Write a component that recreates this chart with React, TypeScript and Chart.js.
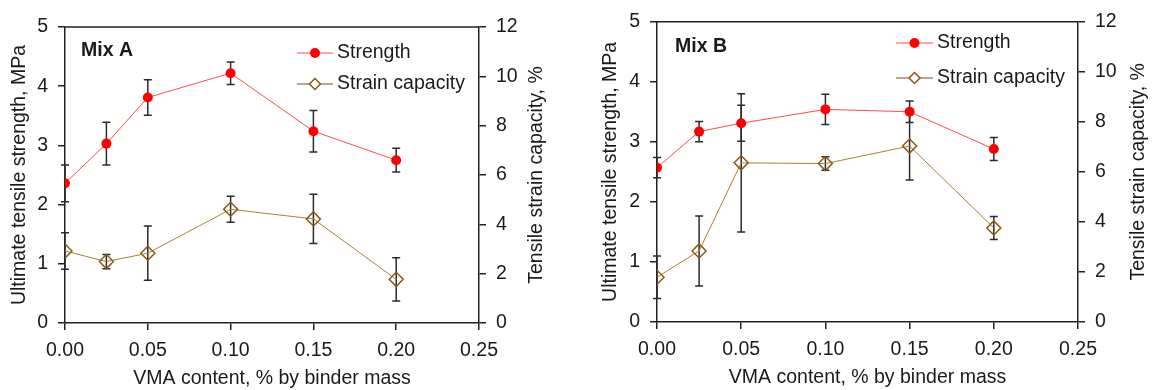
import React, { useEffect, useRef } from 'react';
import { Chart, registerables } from 'chart.js';

Chart.register(...registerables);

const FONT = '"Liberation Sans", Arial, sans-serif';

// VMA content, % by binder mass
const vmaContent = [0, 0.025, 0.05, 0.1, 0.15, 0.2];
const xTicks = [0, 0.05, 0.1, 0.15, 0.2, 0.25];

// Mix A
const mixAStrength = [2.36, 3.03, 3.81, 4.22, 3.24, 2.75];
const mixAStrengthErr = [0.31, 0.36, 0.3, 0.19, 0.35, 0.2];
const mixAStrain = [2.92, 2.49, 2.83, 4.61, 4.22, 1.77];
const mixAStrainErr = [0.74, 0.29, 1.1, 0.53, 1.0, 0.88];

// Mix B
const mixBStrength = [2.57, 3.17, 3.31, 3.54, 3.5, 2.88];
const mixBStrengthErr = [0.17, 0.17, 0.3, 0.25, 0.18, 0.19];
const mixBStrain = [1.79, 2.84, 6.36, 6.33, 7.03, 3.76];
const mixBStrainErr = [0.85, 1.4, 2.76, 0.27, 1.36, 0.46];

const leftAxisTitle = 'Ultimate tensile strength, MPa';
const rightAxisTitle = 'Tensile strain capacity, %';
const xAxisTitle = 'VMA content, % by binder mass';
const legendLabels = ['Strength', 'Strain capacity'];

const TEXT = '#1a1a1a';
const AXIS = '#222222';
const RED_LINE = '#ff4a4a';
const RED = '#ff0000';
const BROWN_LINE = '#a8812f';
const BROWN_MARK = '#8a5a12';
const ERR = '#2b2b2b';

type Geo = {
  width: number;
  L: number; R: number; T: number; B: number;
  leftTitleX: number; rightTitleX: number; xTitleY: number;
  mixX: number; mixY: number;
  legLine0: number; legLine1: number; legText: number; legRows: number[];
};

function Panel(props: {
  label: string; left: number; geo: Geo;
  strength: number[]; strengthErr: number[]; strain: number[]; strainErr: number[];
}) {
  const ref = useRef<HTMLCanvasElement>(null);
  const { geo } = props;
  useEffect(() => {
    const canvas = ref.current!;
    const errs = [props.strengthErr, props.strainErr];

    const errorBars = {
      id: 'errorBars',
      beforeDatasetsDraw(chart: any) {
        const ctx = chart.ctx;
        ctx.save();
        ctx.strokeStyle = ERR;
        ctx.lineWidth = 1.5;
        chart.data.datasets.forEach((ds: any, di: number) => {
          const ys = chart.scales[ds.yAxisID];
          const xs = chart.scales.x;
          ds.data.forEach((p: any, i: number) => {
            const e = errs[di][i];
            const px = xs.getPixelForValue(p.x);
            const y0 = ys.getPixelForValue(p.y - e);
            const y1 = ys.getPixelForValue(p.y + e);
            ctx.beginPath();
            ctx.moveTo(px, y0); ctx.lineTo(px, y1);
            ctx.moveTo(px - 4, y0); ctx.lineTo(px + 4, y0);
            ctx.moveTo(px - 4, y1); ctx.lineTo(px + 4, y1);
            ctx.stroke();
          });
        });
        ctx.restore();
      },
    };

    const overlay = {
      id: 'overlay',
      afterDraw(chart: any) {
        const ctx = chart.ctx;
        const a = chart.chartArea;
        ctx.save();
        // top frame line
        ctx.strokeStyle = AXIS;
        ctx.lineWidth = 1.5;
        ctx.beginPath();
        ctx.moveTo(a.left, a.top);
        ctx.lineTo(a.right, a.top);
        ctx.stroke();

        ctx.fillStyle = TEXT;
        ctx.font = `19.5px ${FONT}`;
        ctx.textBaseline = 'middle';
        ctx.textAlign = 'center';
        const cy = (a.top + a.bottom) / 2;
        // left title
        ctx.save();
        ctx.translate(geo.leftTitleX, cy);
        ctx.rotate(-Math.PI / 2);
        ctx.fillText(leftAxisTitle, 0, 0);
        ctx.restore();
        // right title
        ctx.save();
        ctx.translate(geo.rightTitleX, cy);
        ctx.rotate(-Math.PI / 2);
        ctx.fillText(rightAxisTitle, 0, 0);
        ctx.restore();
        // x title
        ctx.textBaseline = 'alphabetic';
        ctx.fillText(xAxisTitle, (a.left + a.right) / 2, geo.xTitleY);

        // mix label
        ctx.font = `bold 19.5px ${FONT}`;
        ctx.textAlign = 'left';
        ctx.textBaseline = 'middle';
        ctx.fillText(props.label, geo.mixX, geo.mixY);

        // legend
        ctx.font = `19.5px ${FONT}`;
        const mid = (geo.legLine0 + geo.legLine1) / 2;
        // strength
        let y = geo.legRows[0];
        ctx.strokeStyle = RED_LINE;
        ctx.lineWidth = 1;
        ctx.beginPath(); ctx.moveTo(geo.legLine0, y); ctx.lineTo(geo.legLine1, y); ctx.stroke();
        ctx.fillStyle = RED;
        ctx.beginPath(); ctx.arc(mid, y, 5, 0, Math.PI * 2); ctx.fill();
        ctx.fillStyle = TEXT;
        ctx.fillText(legendLabels[0], geo.legText, y);
        // strain
        y = geo.legRows[1];
        ctx.strokeStyle = '#7a4f26';
        ctx.beginPath(); ctx.moveTo(geo.legLine0, y); ctx.lineTo(geo.legLine1, y); ctx.stroke();
        ctx.fillStyle = '#ffffff';
        ctx.strokeStyle = BROWN_MARK;
        ctx.lineWidth = 1.5;
        ctx.beginPath();
        ctx.moveTo(mid, y - 5.5); ctx.lineTo(mid + 5.5, y); ctx.lineTo(mid, y + 5.5); ctx.lineTo(mid - 5.5, y);
        ctx.closePath(); ctx.fill(); ctx.stroke();
        ctx.fillStyle = TEXT;
        ctx.fillText(legendLabels[1], geo.legText, y);
        ctx.restore();
      },
    };

    const tickFont = { family: FONT, size: 19.5 };
    const gridCfg = { display: true, drawOnChartArea: false, drawTicks: true, tickLength: 7, color: AXIS, lineWidth: 1.5 };
    const borderCfg = { display: true, color: AXIS, width: 1.5 };

    const chart = new Chart(canvas, {
      type: 'line',
      data: {
        datasets: [
          {
            label: legendLabels[0],
            data: vmaContent.map((x, i) => ({ x, y: props.strength[i] })),
            yAxisID: 'y',
            borderColor: RED_LINE,
            borderWidth: 1,
            pointStyle: 'circle',
            pointRadius: 5,
            pointBackgroundColor: RED,
            pointBorderColor: RED,
            pointBorderWidth: 0,
          },
          {
            label: legendLabels[1],
            data: vmaContent.map((x, i) => ({ x, y: props.strain[i] })),
            yAxisID: 'y1',
            borderColor: BROWN_LINE,
            borderWidth: 1,
            pointStyle: 'rectRot',
            pointRadius: 7,
            pointBackgroundColor: 'rgba(0,0,0,0)',
            pointBorderColor: BROWN_MARK,
            pointBorderWidth: 1.5,
          },
        ],
      },
      options: {
        responsive: false,
        animation: false,
        devicePixelRatio: 1,
        layout: { padding: { top: geo.T, left: 0, right: 0, bottom: 0 } },
        plugins: { legend: { display: false }, tooltip: { enabled: false } },
        scales: {
          x: {
            type: 'linear',
            min: 0,
            max: 0.25,
            afterFit: (s: any) => { s.height = 390 - geo.B; },
            afterBuildTicks: (s: any) => { s.ticks = xTicks.map((v) => ({ value: v })); },
            ticks: { font: tickFont, color: TEXT, padding: 9, maxRotation: 0, callback: (v: any) => Number(v).toFixed(2) },
            grid: gridCfg,
            border: borderCfg,
          },
          y: {
            type: 'linear',
            position: 'left',
            min: 0,
            max: 5,
            afterFit: (s: any) => { s.width = geo.L; },
            ticks: { font: tickFont, color: TEXT, padding: 10, stepSize: 1 },
            grid: gridCfg,
            border: borderCfg,
          },
          y1: {
            type: 'linear',
            position: 'right',
            min: 0,
            max: 12,
            afterFit: (s: any) => { s.width = geo.width - geo.R; },
            ticks: { font: tickFont, color: TEXT, padding: 10, stepSize: 2 },
            grid: gridCfg,
            border: borderCfg,
          },
        },
      } as any,
      plugins: [errorBars, overlay],
    });
    return () => chart.destroy();
  }, []);

  return (
    <canvas
      ref={ref}
      width={geo.width}
      height={390}
      style={{ position: 'absolute', left: props.left, top: 0, width: geo.width, height: 390 }}
    />
  );
}

const geoA: Geo = {
  width: 576, L: 65, R: 479, T: 27, B: 323,
  leftTitleX: 20, rightTitleX: 537, xTitleY: 384,
  mixX: 81, mixY: 51,
  legLine0: 297, legLine1: 333, legText: 337, legRows: [53, 84],
};

const geoB: Geo = {
  width: 577, L: 81, R: 502, T: 18, B: 322,
  leftTitleX: 35, rightTitleX: 563, xTitleY: 383,
  mixX: 99, mixY: 47,
  legLine0: 320, legLine1: 357, legText: 361, legRows: [43, 78],
};

export default function App() {
  return (
    <div style={{ position: 'absolute', left: 0, top: 0, width: 1153, height: 390, background: '#fff', overflow: 'hidden' }}>
      <Panel label="Mix A" left={0} geo={geoA}
        strength={mixAStrength} strengthErr={mixAStrengthErr} strain={mixAStrain} strainErr={mixAStrainErr} />
      <Panel label="Mix B" left={576} geo={geoB}
        strength={mixBStrength} strengthErr={mixBStrengthErr} strain={mixBStrain} strainErr={mixBStrainErr} />
    </div>
  );
}
